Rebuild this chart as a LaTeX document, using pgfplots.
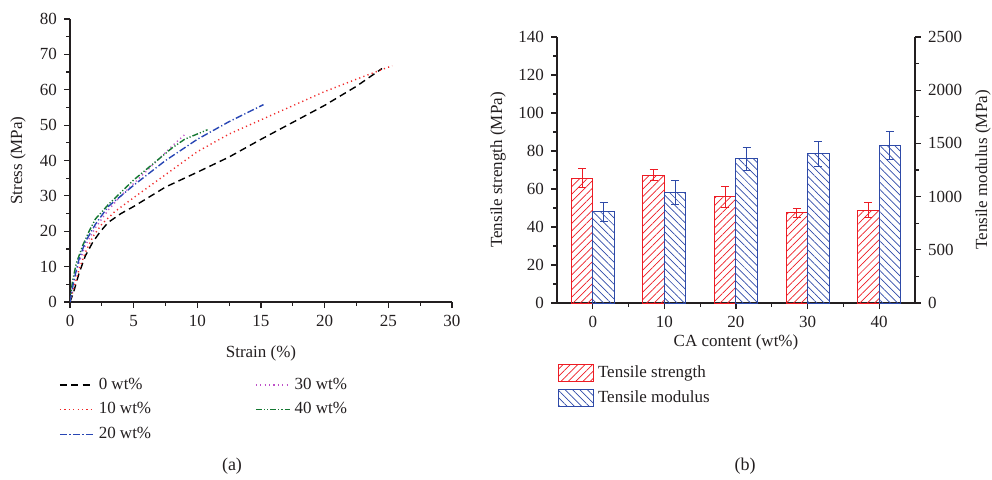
\documentclass[border=0pt]{standalone}
\usepackage{fontspec}
\setmainfont{Liberation Serif}
\usepackage{pgfplots}
\pgfplotsset{compat=1.18}
\usetikzlibrary{patterns.meta}

\definecolor{tsred}{RGB}{237,28,36}
\definecolor{tmblue}{RGB}{46,74,168}
\definecolor{c10}{RGB}{240,40,40}
\definecolor{c20}{RGB}{40,70,180}
\definecolor{c30}{RGB}{190,80,200}
\definecolor{c40}{RGB}{20,120,50}
\definecolor{txt}{RGB}{35,31,32}

\pgfplotsset{
  figbase/.style={
    scale only axis,
    font=\fontsize{8.5}{10}\selectfont,
    /pgf/number format/assume math mode=true,
    /pgf/number format/1000 sep={},
    tick align=outside,
    major tick length=3pt,
    minor tick length=1.8pt,
    axis line style={txt, line width=0.6pt},
    every tick/.style={txt, line width=0.6pt},
    tick label style={txt},
  },
  redbar/.style={draw=tsred, line width=0.5pt,
    pattern={Lines[angle=45,distance=2.6pt,line width=0.35pt]}, pattern color=tsred},
  bluebar/.style={draw=tmblue, line width=0.5pt,
    pattern={Lines[angle=-45,distance=2.6pt,line width=0.35pt]}, pattern color=tmblue},
}

\begin{document}
\begin{tikzpicture}
\useasboundingbox (0,0) rectangle (496pt,-239.5pt);

% (a) stress-strain curves
\begin{axis}[figbase,
  at={(35pt,-151pt)}, anchor=south west,
  width=191pt, height=141.5pt,
  xmin=0, xmax=30, ymin=0, ymax=80,
  axis x line*=bottom, axis y line*=left,
  xtick distance=5, ytick distance=10,
  minor x tick num=1, minor y tick num=1,
  xlabel={Strain (\%)}, ylabel={Stress (MPa)},
  every axis x label/.style={at={(axis description cs:0.5,-0.18)}, anchor=center, txt},
  every axis y label/.style={at={(axis description cs:-0.136,0.5)}, rotate=90, anchor=center, txt},
  legend columns=2, legend cell align=left,
  legend style={draw=none, fill=none, at={(axis description cs:-0.045,-0.238)}, anchor=north west,
    font=\fontsize{8.5}{10}\selectfont, text=txt, row sep=1.2pt,
    /tikz/column 2/.style={column sep=50pt}},
]
\addplot[black, line width=0.7pt, dash pattern=on 3.5pt off 2.2pt] coordinates {
(0,0) (0.3,3) (0.7,8) (1.2,13) (1.8,17) (2.4,20) (3,22.5) (4,25) (5,27) (7.5,32.5)
(10,36.7) (12.5,41) (15,46) (17.5,50.8) (20,55.6) (22.5,61) (24.5,66)};
\addlegendentry{0 wt\%}
\addplot[c30, line width=0.7pt, dash pattern=on 0.6pt off 1.6pt] coordinates {
(0,0) (0.3,6) (0.7,11) (1.2,16) (2,21) (3,26) (4,30) (5,33.5) (6,37) (7,40.5) (8,44) (9,47.3)};
\addlegendentry{30 wt\%}
\addplot[c10, line width=0.7pt, dash pattern=on 0.6pt off 1.6pt] coordinates {
(0,0) (0.3,4) (0.7,9) (1.2,14) (1.8,18.5) (2.5,22) (3.5,25.5) (5,29.5) (7.5,36) (10,42.5)
(12.5,47.5) (15,51.5) (17.5,55.5) (20,59.5) (22.5,63) (25.3,66.8)};
\addlegendentry{10 wt\%}
\addplot[c40, line width=0.7pt, dash pattern=on 3pt off 1pt on 0.6pt off 1pt on 0.6pt off 1pt] coordinates {
(0,0) (0.2,6) (0.5,11) (1,16) (1.5,20) (2,23.5) (3,27.5) (4,31) (5,34.5) (6,37.5) (7,40.5)
(8,43.5) (9,46) (10.8,48.7)};
\addlegendentry{40 wt\%}
\addplot[c20, line width=0.7pt, dash pattern=on 3.5pt off 1.2pt on 0.6pt off 1.2pt] coordinates {
(0,0) (0.3,6) (0.7,12) (1.2,17) (2,22) (3,27) (4,30) (5,33) (7.5,40) (10,46) (12.5,51) (15.2,55.8)};
\addlegendentry{20 wt\%}
\end{axis}

% (b) tensile strength, left axis
\begin{axis}[figbase,
  at={(278.5pt,-151.5pt)}, anchor=south west,
  width=179pt, height=133pt,
  xmin=-5, xmax=45, ymin=0, ymax=140,
  axis x line*=bottom, axis y line*=left,
  xtick={0,10,20,30,40}, minor x tick num=1,
  ytick distance=20, minor y tick num=1,
  ybar, bar width=3,
  xlabel={CA content (wt\%)}, ylabel={Tensile strength (MPa)},
  every axis x label/.style={at={(axis description cs:0.5,-0.147)}, anchor=center, txt},
  every axis y label/.style={at={(axis description cs:-0.165,0.5)}, rotate=90, anchor=center, txt},
  legend cell align=left,
  legend image code/.code={\draw[#1] (0pt,-4.25pt) rectangle (17.5pt,4.25pt);},
  legend style={draw=none, fill=none, at={(axis description cs:-0.015,-0.203)}, anchor=north west,
    font=\fontsize{8.5}{10}\selectfont, text=txt, row sep=1pt},
]
\addplot[redbar, bar shift=-1.5,
  error bars/.cd, y dir=both, y explicit, error bar style={tsred, line width=0.5pt}]
  coordinates {(0,65.7) +- (0,4.9) (10,67.3) +- (0,2.8) (20,55.9) +- (0,5.6)
               (30,47.5) +- (0,2.3) (40,48.9) +- (0,3.9)};
\addlegendentry{Tensile strength}
\addlegendimage{bluebar}
\addlegendentry{Tensile modulus}
\end{axis}

% (b) tensile modulus, right axis
\begin{axis}[figbase,
  at={(278.5pt,-151.5pt)}, anchor=south west,
  width=179pt, height=133pt,
  xmin=-5, xmax=45, ymin=0, ymax=2500,
  axis y line*=right, axis x line=none,
  ytick distance=500, minor y tick num=1,
  ybar, bar width=3,
  ylabel={Tensile modulus (MPa)},
  every axis y label/.style={at={(axis description cs:1.19,0.5)}, rotate=90, anchor=center, txt},
]
\addplot[bluebar, bar shift=1.5,
  error bars/.cd, y dir=both, y explicit, error bar style={tmblue, line width=0.5pt}]
  coordinates {(0,858) +- (0,90) (10,1038) +- (0,110) (20,1355) +- (0,108)
               (30,1403) +- (0,117) (40,1481) +- (0,132)};
\end{axis}

\node[text=txt, font=\fontsize{9}{10}\selectfont] at (116pt,-233pt) {(a)};
\node[text=txt, font=\fontsize{9}{10}\selectfont] at (372.5pt,-233pt) {(b)};
\end{tikzpicture}
\end{document}
